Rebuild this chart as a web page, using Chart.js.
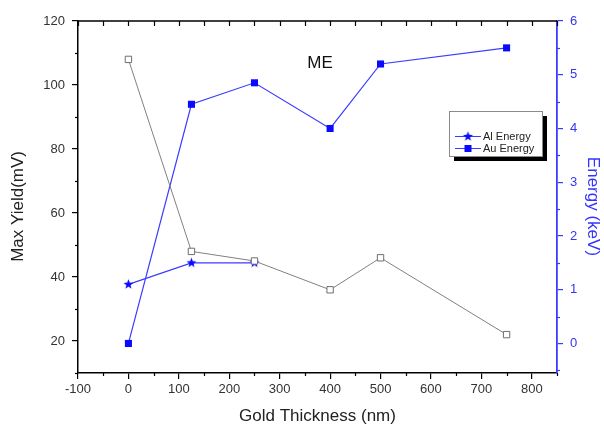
<!DOCTYPE html>
<html><head><meta charset="utf-8">
<script src="https://cdn.jsdelivr.net/npm/chart.js@4.4.0/dist/chart.umd.min.js"></script>
<style>html,body{margin:0;padding:0;background:#fff;}</style>
</head><body>
<canvas id="c" width="604" height="425"></canvas>
<script>
// ---- data ----
const thickness = [0, 125, 250, 400, 500, 750];
const maxYield = [108, 48, 45, 36, 46, 22];
const alThickness = [0, 125, 250];
const alEnergy = [1.1, 1.5, 1.5];
const auEnergy = [0, 4.45, 4.85, 4.0, 5.2, 5.5];
const xTickValues = [-100, 0, 100, 200, 300, 400, 500, 600, 700, 800];
const yLeftTickValues = [20, 40, 60, 80, 100, 120];
const yRightTickValues = [0, 1, 2, 3, 4, 5, 6];
const legendLabels = ['Al Energy', 'Au Energy'];
const chartLabel = 'ME';

const BLUE_LINE = '#3c3cff';
const BLUE_PT = '#0a0aff';
const GRAY = '#808080';
const FONT = '"Liberation Sans", Arial, sans-serif';

// filled star marker
function makeStar(r, color) {
  const c = document.createElement('canvas');
  const s = Math.ceil(r * 2 + 2);
  c.width = s; c.height = s;
  const g = c.getContext('2d');
  g.fillStyle = color;
  g.beginPath();
  for (let i = 0; i < 10; i++) {
    const rr = i % 2 === 0 ? r : r * 0.42;
    const a = -Math.PI / 2 + i * Math.PI / 5;
    const px = s / 2 + rr * Math.cos(a), py = s / 2 + rr * Math.sin(a);
    if (i === 0) g.moveTo(px, py); else g.lineTo(px, py);
  }
  g.closePath(); g.fill();
  return c;
}
const starImg = makeStar(5.2, BLUE_PT);

const pts = (xs, ys) => xs.map((x, i) => ({x, y: ys[i]}));

const framePlugin = {
  id: 'frame',
  afterDraw(chart) {
    const ctx = chart.ctx;
    const {left, right, top, bottom} = chart.chartArea;
    const xs = chart.scales.x, yl = chart.scales.y, yr = chart.scales.y1;
    ctx.save();
    // top axis
    ctx.strokeStyle = '#000'; ctx.lineWidth = 1.5;
    ctx.beginPath(); ctx.moveTo(left, top); ctx.lineTo(right, top); ctx.stroke();
    ctx.lineWidth = 1.2;
    for (let v = -100; v <= 850; v += 50) {
      const px = Math.round(xs.getPixelForValue(v)) + 0.5;
      ctx.beginPath(); ctx.moveTo(px, top); ctx.lineTo(px, top + 5); ctx.stroke();
      if (v % 100 !== 0) {
        ctx.beginPath(); ctx.moveTo(px, bottom); ctx.lineTo(px, bottom + 3); ctx.stroke();
      }
    }
    for (let v = 10; v <= 110; v += 20) {
      const py = Math.round(yl.getPixelForValue(v)) + 0.5;
      ctx.beginPath(); ctx.moveTo(left, py); ctx.lineTo(left - 3, py); ctx.stroke();
    }
    ctx.strokeStyle = BLUE_LINE;
    for (let v = -0.5; v <= 5.5; v += 1) {
      const py = Math.round(yr.getPixelForValue(v)) + 0.5;
      ctx.beginPath(); ctx.moveTo(right, py); ctx.lineTo(right + 3, py); ctx.stroke();
    }
    // chart label
    ctx.fillStyle = '#111';
    ctx.font = '17px ' + FONT;
    ctx.textAlign = 'center'; ctx.textBaseline = 'middle';
    ctx.fillText(chartLabel, xs.getPixelForValue(380), yl.getPixelForValue(106.8));

    // legend box
    const bx = 449, by = 111, bw = 93, bh = 45;
    ctx.fillStyle = '#000';
    ctx.fillRect(bx + 5, by + 5, bw, bh);
    ctx.fillStyle = '#fff';
    ctx.fillRect(bx, by, bw, bh);
    ctx.strokeStyle = '#8a8a8a'; ctx.lineWidth = 1;
    ctx.strokeRect(bx + 0.5, by + 0.5, bw, bh);
    const rows = [136, 148];
    ctx.font = '11px ' + FONT;
    ctx.textAlign = 'left';
    rows.forEach((ry, i) => {
      ctx.strokeStyle = BLUE_LINE; ctx.lineWidth = 1;
      ctx.beginPath(); ctx.moveTo(455, ry + 0.5); ctx.lineTo(481, ry + 0.5); ctx.stroke();
      if (i === 0) {
        ctx.drawImage(starImg, 468 - starImg.width / 2, ry - starImg.height / 2 + 0.5);
      } else {
        ctx.fillStyle = BLUE_PT; ctx.fillRect(464.5, ry - 3, 7, 7);
      }
      ctx.fillStyle = '#222';
      ctx.fillText(legendLabels[i], 483, ry + 0.5);
    });
    ctx.restore();
  }
};

new Chart(document.getElementById('c'), {
  type: 'line',
  data: {
    datasets: [
      {
        label: 'Max Yield', data: pts(thickness, maxYield), yAxisID: 'y',
        borderColor: GRAY, borderWidth: 1, pointStyle: 'rect', pointRadius: 4.5,
        pointBackgroundColor: '#fff', pointBorderColor: '#6e6e6e', pointBorderWidth: 1,
        tension: 0, fill: false
      },
      {
        label: legendLabels[0], data: pts(alThickness, alEnergy), yAxisID: 'y1',
        borderColor: BLUE_LINE, borderWidth: 1.2, pointStyle: starImg,
        tension: 0, fill: false
      },
      {
        label: legendLabels[1], data: pts(thickness, auEnergy), yAxisID: 'y1',
        borderColor: BLUE_LINE, borderWidth: 1.2, pointStyle: 'rect', pointRadius: 5,
        pointBackgroundColor: BLUE_PT, pointBorderColor: BLUE_PT, pointBorderWidth: 0,
        tension: 0, fill: false
      }
    ]
  },
  options: {
    responsive: false,
    animation: false,
    devicePixelRatio: 1,
    layout: {padding: {top: 21, left: 0, right: 0, bottom: 0}, autoPadding: false},
    plugins: {legend: {display: false}, tooltip: {enabled: false}, title: {display: false}},
    scales: {
      x: {
        type: 'linear', position: 'bottom', min: -100, max: 850,
        afterBuildTicks: s => { s.ticks = xTickValues.map(v => ({value: v})); },
        afterFit: s => { s.height = 52; },
        ticks: {color: '#333', font: {size: 13, family: FONT}, padding: 3, autoSkip: false, maxRotation: 0},
        grid: {drawOnChartArea: false, drawTicks: true, tickLength: 6, tickColor: '#000', lineWidth: 1.2},
        border: {display: true, color: '#000', width: 1.5},
        title: {display: true, text: 'Gold Thickness (nm)', color: '#222',
                font: {size: 17, family: FONT, lineHeight: 1}, padding: {top: 0, bottom: 0}}
      },
      y: {
        type: 'linear', position: 'left', min: 10, max: 120,
        afterBuildTicks: s => { s.ticks = yLeftTickValues.map(v => ({value: v})); },
        afterFit: s => { s.width = 78; },
        ticks: {color: '#333', font: {size: 13, family: FONT}, padding: 7, autoSkip: false},
        grid: {drawOnChartArea: false, drawTicks: true, tickLength: 6, tickColor: '#000', lineWidth: 1.2},
        border: {display: true, color: '#000', width: 1.5},
        title: {display: true, text: 'Max Yield(mV)    ', color: '#222',
                font: {size: 17, family: FONT, lineHeight: 1}, padding: {top: 10, bottom: 0}}
      },
      y1: {
        type: 'linear', position: 'right', min: -0.55, max: 6,
        afterBuildTicks: s => { s.ticks = yRightTickValues.map(v => ({value: v})); },
        afterFit: s => { s.width = 47; },
        ticks: {color: '#3535ee', font: {size: 13, family: FONT}, padding: 7, autoSkip: false},
        grid: {drawOnChartArea: false, drawTicks: true, tickLength: 6, tickColor: BLUE_LINE, lineWidth: 1.2},
        border: {display: true, color: BLUE_LINE, width: 1.8},
        title: {display: true, text: '    Energy (keV)', color: '#3333ff',
                font: {size: 17, family: FONT, lineHeight: 1}, padding: {top: 3, bottom: 0}}
      }
    }
  },
  plugins: [framePlugin]
});
</script>
</body></html>
